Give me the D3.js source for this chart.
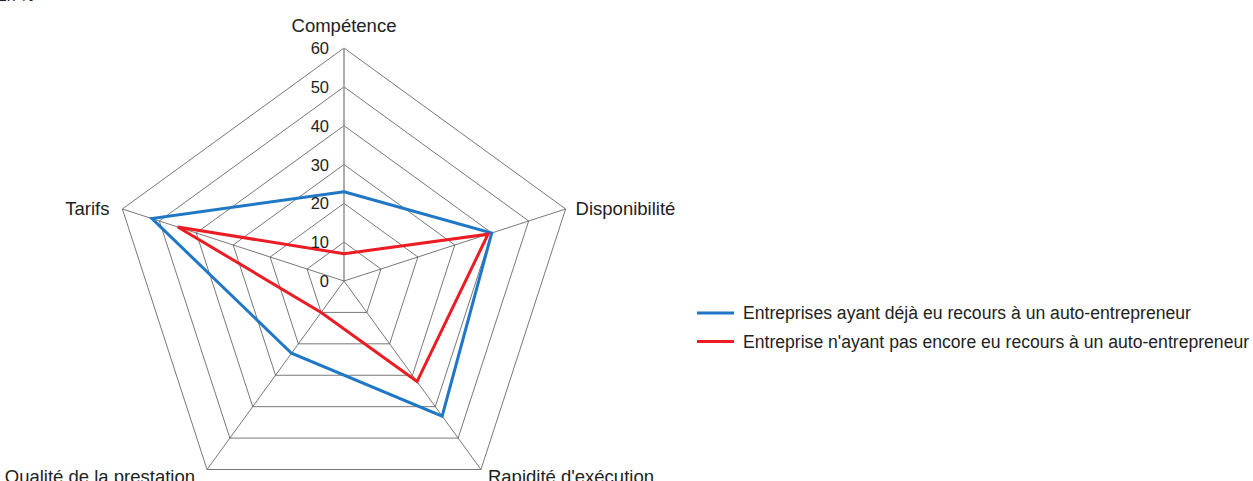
<!DOCTYPE html>
<html><head><meta charset="utf-8">
<script src="https://cdn.jsdelivr.net/npm/d3@7"></script>
<style>body{margin:0;background:#fff;}svg{display:block;font-family:"Liberation Sans",Arial,sans-serif;}</style>
</head><body>
<svg id="c" width="1253" height="481"></svg>
<script>
const categories = ["Compétence", "Disponibilité", "Rapidité d'exécution", "Qualité de la prestation", "Tarifs"];
const seriesNames = ["Entreprises ayant déjà eu recours à un auto-entrepreneur", "Entreprise n'ayant pas encore eu recours à un auto-entrepreneur"];
const seriesA = [23, 40, 43, 23, 52];
const seriesB = [7, 39, 32, 10, 45];
const tickValues = [0, 10, 20, 30, 40, 50, 60];
const colors = ["#1f77c6", "#ec1c24"];

const svg = d3.select("#c");
const cx = 344, cy = 281, R = 233;
const r = d3.scaleLinear().domain([0, 60]).range([0, R]);
const n = categories.length;
const ang = i => i * 2 * Math.PI / n;
const pt = (i, v) => [cx + r(v) * Math.sin(ang(i)), cy - r(v) * Math.cos(ang(i))];

svg.append("text").attr("x", -4).attr("y", 0.5).attr("font-size", 16).attr("fill", "#222").text("En %");

const g = svg.append("g");
// rings
tickValues.filter(t => t > 0).forEach(t => {
  g.append("path")
    .attr("d", d3.line()(d3.range(n).map(i => pt(i, t))) + "Z")
    .attr("fill", "none").attr("stroke", "#555").attr("stroke-width", 0.8);
});
// spokes
d3.range(n).forEach(i => {
  const [x, y] = pt(i, 60);
  g.append("line").attr("x1", cx).attr("y1", cy).attr("x2", x).attr("y2", y)
    .attr("stroke", i === 0 ? "#999" : "#555").attr("stroke-width", i === 0 ? 1.6 : 0.8);
});

// series
[seriesA, seriesB].forEach((vals, k) => {
  const line = d3.lineRadial().angle((d, i) => ang(i)).radius(d => r(d)).curve(d3.curveLinearClosed);
  g.append("path").attr("transform", `translate(${cx},${cy})`)
    .attr("d", line(vals)).attr("fill", "none").attr("stroke", colors[k])
    .attr("stroke-width", 3).attr("stroke-linejoin", "miter");
});

// tick labels
tickValues.forEach(t => {
  svg.append("text").attr("x", cx - 15).attr("y", cy - r(t))
    .attr("text-anchor", "end").attr("dominant-baseline", "central")
    .attr("font-size", 16.5).attr("fill", "#222").text(t);
});

// category labels
categories.forEach((c, i) => {
  const [x, y] = pt(i, 60);
  const s = Math.sin(ang(i)), co = Math.cos(ang(i));
  const t = svg.append("text").attr("font-size", 18.5).attr("fill", "#222").text(c);
  if (Math.abs(s) < 0.01) {
    t.attr("x", x).attr("y", y - 16).attr("text-anchor", "middle");
  } else if (co > 0) {
    t.attr("x", s > 0 ? x + 10 : x - 13).attr("y", y).attr("dominant-baseline", "central")
      .attr("text-anchor", s > 0 ? "start" : "end");
  } else {
    t.attr("x", s > 0 ? x + 7 : x - 12).attr("y", y + 13)
      .attr("text-anchor", s > 0 ? "start" : "end");
  }
});

// legend
seriesNames.forEach((name, k) => {
  const y = 313 + k * 28.5;
  svg.append("line").attr("x1", 697).attr("x2", 734).attr("y1", y).attr("y2", y)
    .attr("stroke", colors[k]).attr("stroke-width", 3);
  svg.append("text").attr("x", 743).attr("y", y).attr("dominant-baseline", "central")
    .attr("font-size", 17.6).attr("fill", "#222").text(name);
});
</script>
</body></html>
